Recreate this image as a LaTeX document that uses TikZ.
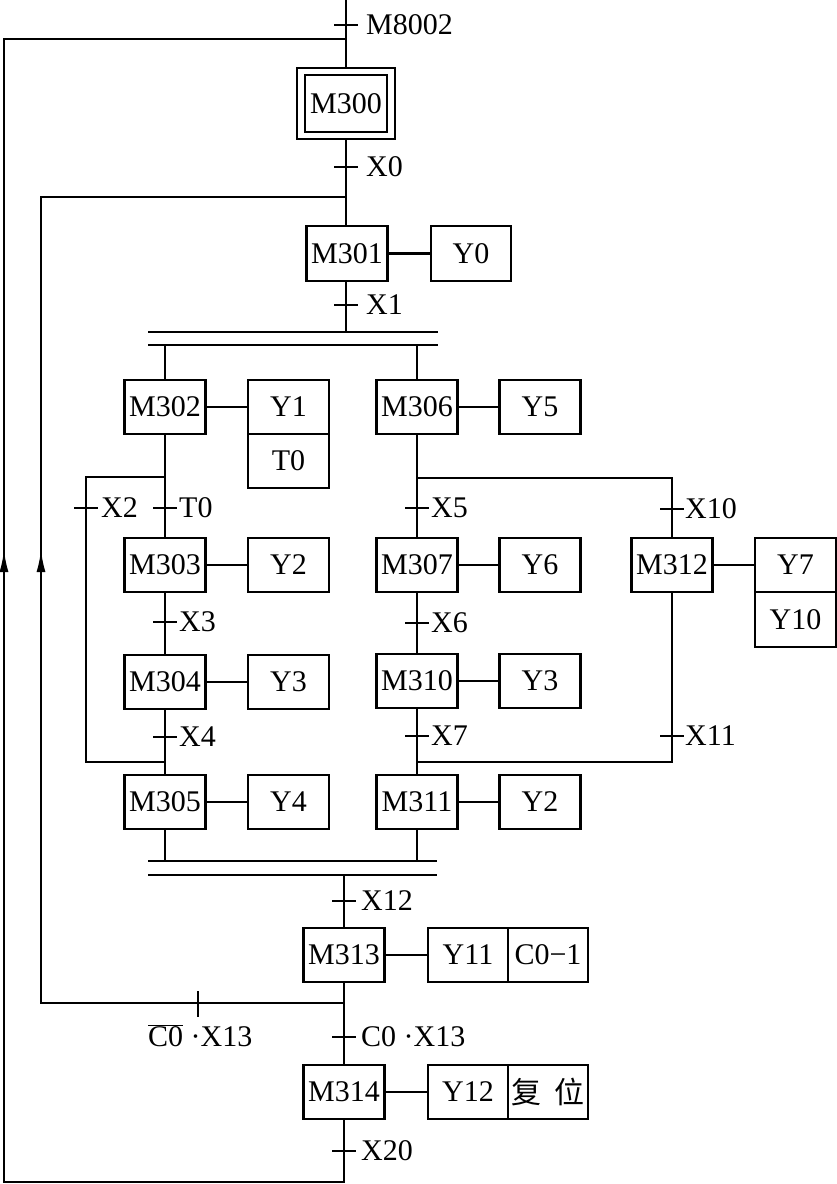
\documentclass[tikz,border=0pt]{standalone}
\usepackage{fontspec}
\setmainfont{Liberation Serif}
\newfontfamily\cjk{Noto Sans CJK SC}
\usetikzlibrary{arrows.meta}
\newcommand\htk[1]{\draw[tk] (#1) +(-12,0) -- +(12,0);}
\begin{document}
\begin{tikzpicture}[x=1pt,y=-1pt,
  every node/.style={font=\fontsize{30}{34}\selectfont},
  sbox/.style={draw,line width=2.1pt,minimum width=81pt,minimum height=54pt,inner sep=0pt},
  ln/.style={line width=2.1pt},
  tk/.style={line width=1.7pt},
  lab/.style={anchor=west,inner sep=0pt},
  upar/.style={line width=2.1pt,-{Latex[length=22pt,width=9pt]}}]
\useasboundingbox (0,0) rectangle (837,1184);
% top part
\coordinate (top) at (346,0);
\node[sbox,minimum width=98pt,minimum height=71pt] (m300o) at (346,103.5) {};
\node[sbox,minimum width=82pt,minimum height=57pt] (m300) at (346,103.5) {M300};
\node[sbox,minimum height=55pt] (m301) at (347,253.5) {M301};
\node[sbox,minimum width=80pt,minimum height=55pt] (y0) at (471,253.5) {Y0};
\coordinate (b1l) at (148,332); \coordinate (b1r) at (438,332);
\coordinate (b2l) at (148,345); \coordinate (b2r) at (438,345);
\draw[ln] (b1l) -- (b1r);
\draw[ln] (b2l) -- (b2r);
\draw[ln] (top) -- (m300o.north);
\draw[ln] (m300o.south) -- (m300o.south |- m301.north);
\draw[ln] (m301.south -| m300o.south) -- (m300o.south |- b1l);
\draw[ln] (m301) -- (y0);
\htk{346,25} \node[lab] (lm8002) at (366,25) {M8002};
\htk{346,167} \node[lab] (lx0) at (366,167) {X0};
\htk{346,305} \node[lab] (lx1) at (366,305) {X1};
% left column
\node[sbox] (m302) at (165,407) {M302};
\node[sbox] (m303) at (165,565) {M303};
\node[sbox] (m304) at (165,682) {M304};
\node[sbox] (m305) at (165,802) {M305};
\node[sbox] (y1) at (288.5,407) {Y1};
\node[sbox] (t0) at (288.5,461) {T0};
\node[sbox] (y2) at (288.5,565) {Y2};
\node[sbox] (y3a) at (288.5,682) {Y3};
\node[sbox] (y4) at (288.5,802) {Y4};
\draw[ln] (m302) -- (y1);
\draw[ln] (m303) -- (y2);
\draw[ln] (m304) -- (y3a);
\draw[ln] (m305) -- (y4);
\draw[ln] (m302.north |- b2l) -- (m302);
\draw[ln] (m302) -- (m303);
\draw[ln] (m303) -- (m304);
\draw[ln] (m304) -- (m305);
\coordinate (jl1) at (165,477); \coordinate (ll1) at (86,477);
\coordinate (ll2) at (86,762); \coordinate (jl2) at (165,762);
\draw[ln] (jl1) -- (ll1) -- (ll2) -- (jl2);
\htk{86,508} \node[lab] (lx2) at (101,508) {X2};
\htk{165,508} \node[lab] (lt0) at (179,508) {T0};
\htk{165,622} \node[lab] (lx3) at (179,622) {X3};
\htk{165,737} \node[lab] (lx4) at (179,737) {X4};
% right column
\node[sbox] (m306) at (417,407) {M306};
\node[sbox] (m307) at (417,565) {M307};
\node[sbox] (m310) at (417,681) {M310};
\node[sbox] (m311) at (417,802) {M311};
\node[sbox] (y5) at (540,407) {Y5};
\node[sbox] (y6) at (540,565) {Y6};
\node[sbox] (y3b) at (540,681) {Y3};
\node[sbox] (y2b) at (540,802) {Y2};
\node[sbox] (m312) at (672,565) {M312};
\node[sbox] (y7) at (795.5,565) {Y7};
\node[sbox,minimum height=55pt] (y10) at (795.5,619.5) {Y10};
\draw[ln] (m306) -- (y5);
\draw[ln] (m307) -- (y6);
\draw[line width=1.4pt] (m310) -- (y3b);
\draw[ln] (m311) -- (y2b);
\draw[ln] (m312) -- (y7);
\draw[ln] (m306.north |- b2l) -- (m306);
\draw[ln] (m306) -- (m307);
\draw[ln] (m307) -- (m310);
\draw[ln] (m310) -- (m311);
\coordinate (jr1) at (417,478); \coordinate (rr1) at (672,478);
\coordinate (rr2) at (672,762); \coordinate (jr2) at (417,762);
\draw[ln] (jr1) -- (rr1) -- (m312);
\draw[ln] (m312) -- (rr2) -- (jr2);
\htk{417,508} \node[lab] (lx5) at (431,508) {X5};
\htk{672,509} \node[lab] (lx10) at (685,509) {X10};
\htk{417,623} \node[lab] (lx6) at (431,623) {X6};
\htk{417,736} \node[lab] (lx7) at (431,736) {X7};
\htk{672,736} \node[lab] (lx11) at (685,736) {X11};
% bottom bars
\coordinate (b3l) at (148,861); \coordinate (b3r) at (437,861);
\coordinate (b4l) at (148,875); \coordinate (b4r) at (437,875);
\draw[ln] (b3l) -- (b3r);
\draw[ln] (b4l) -- (b4r);
\draw[ln] (m305.south) -- (m305.south |- b3l);
\draw[ln] (m311.south) -- (m311.south |- b3l);
% bottom part
\node[sbox] (m313) at (344,955) {M313};
\node[sbox,minimum width=80pt] (y11) at (468,955) {Y11};
\node[sbox,minimum width=80pt] (c01) at (548,955) {C0−1};
\node[sbox] (m314) at (344,1092) {M314};
\node[sbox,minimum width=80pt] (y12) at (468,1092) {Y12};
\node[sbox,minimum width=80pt] (fw) at (548,1092) {\cjk 复\hspace{0.45em}位};
\draw[ln] (m313) -- (y11);
\draw[ln] (m314) -- (y12);
\draw[ln] (m313.north |- b4l) -- (m313);
\draw[ln] (m313) -- (m314);
\htk{344,901} \node[lab] (lx12) at (361,901) {X12};
\htk{344,1037} \node[lab] (lc0x13) at (361,1037) {C0 ·X13};
\htk{344,1151} \node[lab] (lx20) at (361,1151) {X20};
% loops
\coordinate (bot) at (344,1182); \coordinate (obl) at (4,1182);
\coordinate (otl) at (4,39); \coordinate (otr) at (346,39);
\draw[ln] (m314) -- (bot) -- (obl) -- (otl) -- (otr);
\coordinate (ib) at (344,1003); \coordinate (ibl) at (41,1003);
\coordinate (itl) at (41,197); \coordinate (itr) at (346,197);
\draw[ln] (ib) -- (ibl) -- (itl) -- (itr);
\draw[upar] (4,600) -- (4,550);
\draw[upar] (41,600) -- (41,550);
\draw[tk] (198,991) -- (198,1017);
\node[lab] (lnc0x13) at (148,1036) {$\overline{\hbox{C0}}$ ·X13};
\end{tikzpicture}
\end{document}
